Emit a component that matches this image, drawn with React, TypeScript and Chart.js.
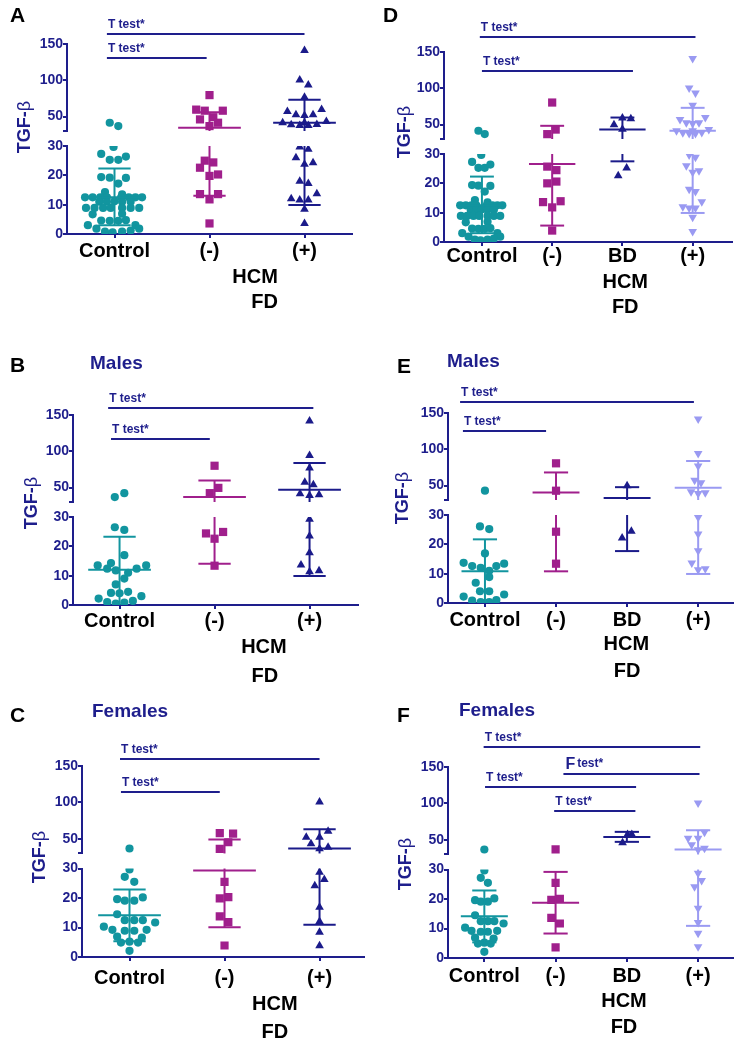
import React, { useEffect, useRef } from 'react';
import { Chart, registerables } from 'chart.js';

Chart.register(...registerables);

// ---------------- data ----------------
const categoriesHCM = ['Control', '(-)', '(+)'];
const categoriesBD = ['Control', '(-)', 'BD', '(+)'];
const yLowTickValues = [0, 10, 20, 30];
const yHighTickValues = [30, 50, 100, 150];
const yHighTickLabels = ['', '50', '100', '150'];

// points: [jitter offset (category units), TGF-β value]
const controlAll = [
  [-0.05, 41.4], [0.04, 36.8],
  [-0.01, 29.7],
  [-0.14, 27.3], [0.12, 26.4], [-0.05, 25.3], [0.04, 25.3],
  [-0.14, 19.4], [-0.05, 19.2], [0.12, 19.1], [0.04, 17.2],
  [-0.1, 14.3], [0.08, 13.5],
  [-0.31, 12.5], [-0.23, 12.5], [-0.15, 12.5], [-0.08, 12.5], [0.07, 12.5], [0.15, 12.5], [0.22, 12.5], [0.29, 12.5],
  [-0.16, 11], [-0.08, 11], [0, 11.2], [0.08, 11], [0.17, 11],
  [-0.3, 8.9], [-0.21, 8.9], [-0.12, 8.9], [-0.04, 8.9], [0.08, 8.9], [0.17, 8.9], [0.26, 8.9],
  [-0.23, 6.7], [0.08, 6.9],
  [-0.14, 4.6], [-0.05, 4.5], [0.04, 4.5], [0.12, 4.7],
  [-0.28, 3.0], [0.22, 3.0],
  [-0.19, 1.8], [0.26, 1.8],
  [-0.1, 0.8], [-0.02, 0.6], [0.08, 0.8], [0.17, 1.2],
];
const hcmNegAll = [
  [0, 79.5], [-0.14, 59.5], [-0.05, 58], [0.14, 58], [-0.1, 46], [0.04, 49], [0.09, 41.4], [0, 36.8],
  [-0.05, 25], [0.04, 24.4], [-0.1, 22.6], [0.09, 20.3], [0, 19.8], [-0.1, 13.6], [0.09, 13.6], [0, 11.8], [0, 3.6],
];
const hcmPosAll = [
  [0, 141], [-0.05, 100.5], [0.04, 93.6], [0, 76.4],
  [-0.18, 56.8], [0.18, 59.5], [-0.09, 52.3], [0, 51.4], [0.09, 52.3],
  [-0.23, 41.4], [-0.14, 38.6], [-0.05, 37.7], [0.04, 37.7], [0.13, 39], [0.23, 43], [0, 41.4],
  [-0.05, 29.7], [0.04, 28.9], [-0.09, 26], [0, 23.75], [0.09, 24.3], [-0.05, 18], [0.04, 17.2],
  [0.13, 13.75], [-0.14, 12], [-0.05, 11.6], [0.04, 11.6], [0, 8.4], [0, 3.6],
];
const fdNegAll = [
  [0, 80.3], [0.05, 43], [-0.07, 36.7], [-0.07, 25.7], [0.06, 24.5], [-0.07, 20], [0.06, 20.6],
  [-0.13, 13.6], [0.12, 13.9], [0, 11.8], [0, 3.9],
];
const bdAll = [[0, 58.8], [0.12, 58], [-0.12, 49.5], [0, 43.5], [0.06, 25.2], [-0.06, 22.6]];

const controlMale = [
  [-0.05, 36.8], [0.05, 42.2], [-0.05, 26.5], [0.05, 25.6], [0.05, 17],
  [-0.23, 13.5], [-0.09, 14.3], [-0.13, 12.4], [-0.04, 11.8], [0.09, 11], [0.18, 12.4], [0.28, 13.5],
  [0.05, 9], [-0.04, 7], [-0.09, 4.1], [0, 4], [0.09, 4.5], [0.23, 3],
  [-0.22, 2.2], [-0.13, 1], [-0.04, 0.5], [0.05, 0.8], [0.14, 1.4],
];
const hcmNegMale = [[0, 80], [0.04, 49.5], [-0.05, 42.2], [-0.09, 24.4], [0.09, 24.9], [0, 22.6], [0, 13.4]];
const hcmPosMale = [
  [0, 141.8], [0, 94.3], [0, 77], [-0.05, 57.3], [0.04, 53.7], [-0.1, 41.3], [0, 39], [0.1, 40],
  [0, 29.2], [0, 23.5], [0, 17.8], [-0.09, 13.6], [0, 11.3], [0.1, 11.7],
];
const controlMaleE = [
  [0, 42.8], [-0.07, 26.1], [0.06, 25.2], [0, 16.9],
  [-0.3, 13.7], [-0.18, 12.6], [-0.06, 12], [0.06, 11], [0.16, 12.6], [0.27, 13.4],
  [0.06, 8.85], [-0.13, 6.9], [-0.07, 4], [0.06, 4], [0.27, 2.9],
  [-0.3, 2.2], [-0.18, 0.8], [-0.06, 0.3], [0.06, 0.3], [0.16, 1.0],
];
const fdNegMale = [[0, 80.6], [0, 42.8], [0, 24.3], [0, 13.4]];
const bdMale = [[0, 49.5], [0.06, 24.5], [-0.07, 22.2]];

const controlFemale = [
  [0, 36.8], [0, 29.7], [-0.05, 27.2], [0.05, 25.5],
  [-0.13, 19.6], [-0.05, 19.1], [0.05, 19.1], [0.14, 20.2],
  [-0.13, 14.5], [-0.05, 12.5], [0.05, 12.5], [0.14, 12.5], [0.27, 11.7], [-0.27, 10.3],
  [-0.18, 9.2], [-0.05, 8.9], [0.05, 8.9], [0.18, 9.2], [-0.13, 6.9], [0.13, 6.6],
  [-0.09, 4.9], [0, 5.2], [0.09, 4.9], [0, 2.1],
];
const hcmNegFemale = [
  [-0.05, 58], [0.09, 57.3], [0.04, 45.4], [-0.05, 36.4], [0, 25.5], [-0.05, 19.9], [0.04, 20.3],
  [-0.05, 13.8], [0.04, 11.8], [0, 3.9],
];
const hcmPosFemale = [
  [0, 100.5], [0.09, 60.5], [-0.14, 52.3], [0, 52.3], [-0.09, 43.2], [0, 36.4], [0.09, 38.6],
  [0, 28.7], [0.05, 26.3], [-0.05, 24.2], [0, 16.9], [0, 12], [0, 8.4], [0, 3.8],
];
const fdNegFemale = [[0, 36.9], [0, 25.5], [-0.06, 19.7], [0.06, 20.1], [-0.06, 13.6], [0.06, 11.7], [0, 3.6]];
const bdFemale = [[0.01, 57.5], [0.07, 57.5], [-0.06, 46]];

// summary: [mean, upper whisker, lower whisker]
const controlAllStats = [12.5, 22.3, 3.0];
const hcmNegAllStats = [34.5, 55.9, 13.0];
const hcmPosAllStats = [41.4, 73, 9.9];
const fdNegAllStats = [26.6, 48.2, 5.6];
const bdAllStats = [43.1, 59.6, 27.5];
const controlMaleStats = [12.0, 23.3, 0];
const hcmNegMaleStats = [36.8, 59.6, 14.1];
const hcmPosMaleStats = [46.8, 83.8, 9.9];
const controlMaleEStats = [10.8, 21.7, 0];
const fdNegMaleStats = [40.5, 68, 10.8];
const bdMaleStats = [32.9, 47.7, 17.7];
const controlFemaleStats = [14.2, 22.9, 5.3];
const hcmNegFemaleStats = [29.3, 49.1, 10.1];
const hcmPosFemaleStats = [36.8, 63.2, 10.9];
const fdNegFemaleStats = [18.75, 29.2, 8.3];
const bdFemaleStats = [54, 61, 47.3];

// ---------------- styles ----------------
const FONT = '"Liberation Sans", Arial, Helvetica, sans-serif';
const NAVY = '#1e1e8c';
const KIND: any = {
  control: { color: '#12959f', style: 'circle', radius: 4.1, rotation: 0 },
  neg: { color: '#a01f8c', style: 'rect', radius: 5.8, rotation: 0 },
  pos: { color: '#1b1b8a', style: 'triangle', radius: 5, rotation: 0 },
  lav: { color: '#9a9af2', style: 'triangle', radius: 5, rotation: 180 },
};
const MEAN_HALF = 0.33;
const CAP_HALF = 0.17;
const BREAK = 30;

const PANELS: any[] = [
  {
    key: 'A', left: 0, top: 0, w: 370, h: 330, area: { l: 67, t: 44, r: 352, b: 234 }, xRange: [-0.5, 2.5],
    cats: categoriesHCM, xLabPad: 1,
    groups: [
      { idx: 0, pts: controlAll, stats: controlAllStats, kind: 'control' },
      { idx: 1, pts: hcmNegAll, stats: hcmNegAllStats, kind: 'neg' },
      { idx: 2, pts: hcmPosAll, stats: hcmPosAllStats, kind: 'pos' },
    ],
    letter: { x: 10, y: 22 }, title: { x: 30, y: 127 },
    brackets: [{ x0: -0.08, x1: 2.0, y: 34, label: 'T test*' }, { x0: -0.08, x1: 0.97, y: 58, label: 'T test*' }],
    extras: [{ t: 'HCM', x: 1.48, y: 283 }, { t: 'FD', x: 1.58, y: 308 }],
  },
  {
    key: 'D', left: 370, top: 0, w: 370, h: 330, area: { l: 74, t: 52, r: 362, b: 242 }, xRange: [-0.54, 3.56],
    cats: categoriesBD, xLabPad: -2,
    groups: [
      { idx: 0, pts: controlAll, stats: controlAllStats, kind: 'control' },
      { idx: 1, pts: fdNegAll, stats: fdNegAllStats, kind: 'neg' },
      { idx: 2, pts: bdAll, stats: bdAllStats, kind: 'pos' },
      { idx: 3, pts: hcmPosAll, stats: hcmPosAllStats, kind: 'lav' },
    ],
    letter: { x: 13, y: 22 }, title: { x: 40, y: 132 },
    brackets: [{ x0: -0.03, x1: 3.04, y: 37, label: 'T test*' }, { x0: 0, x1: 2.15, y: 71, label: 'T test*' }],
    extras: [{ t: 'HCM', x: 2.04, y: 288 }, { t: 'FD', x: 2.04, y: 313 }],
  },
  {
    key: 'B', left: 0, top: 330, w: 370, h: 358, area: { l: 73, t: 85, r: 358, b: 275 }, xRange: [-0.49, 2.51],
    cats: categoriesHCM, xLabPad: 0,
    groups: [
      { idx: 0, pts: controlMale, stats: controlMaleStats, kind: 'control' },
      { idx: 1, pts: hcmNegMale, stats: hcmNegMaleStats, kind: 'neg' },
      { idx: 2, pts: hcmPosMale, stats: hcmPosMaleStats, kind: 'pos' },
    ],
    letter: { x: 10, y: 42 }, sub: { t: 'Males', x: 90, y: 39 }, title: { x: 37, y: 173 },
    brackets: [{ x0: -0.12, x1: 2.04, y: 78, label: 'T test*' }, { x0: -0.09, x1: 0.95, y: 109, label: 'T test*' }],
    extras: [{ t: 'HCM', x: 1.52, y: 323 }, { t: 'FD', x: 1.53, y: 352 }],
  },
  {
    key: 'E', left: 370, top: 330, w: 370, h: 358, area: { l: 78, t: 83, r: 363, b: 273 }, xRange: [-0.52, 3.49],
    cats: categoriesBD, xLabPad: 1,
    groups: [
      { idx: 0, pts: controlMaleE, stats: controlMaleEStats, kind: 'control' },
      { idx: 1, pts: fdNegMale, stats: fdNegMaleStats, kind: 'neg' },
      { idx: 2, pts: bdMale, stats: bdMaleStats, kind: 'pos' },
      { idx: 3, pts: hcmPosMale, stats: hcmPosMaleStats, kind: 'lav' },
    ],
    letter: { x: 27, y: 43 }, sub: { t: 'Males', x: 77, y: 37 }, title: { x: 38, y: 168 },
    brackets: [{ x0: -0.35, x1: 2.94, y: 72, label: 'T test*' }, { x0: -0.31, x1: 0.86, y: 101, label: 'T test*' }],
    extras: [{ t: 'HCM', x: 1.99, y: 320 }, { t: 'FD', x: 2.0, y: 347 }],
  },
  {
    key: 'C', left: 0, top: 688, w: 370, h: 357, area: { l: 82, t: 78, r: 365, b: 269 }, xRange: [-0.5, 2.47],
    cats: categoriesHCM, xLabPad: 5,
    groups: [
      { idx: 0, pts: controlFemale, stats: controlFemaleStats, kind: 'control' },
      { idx: 1, pts: hcmNegFemale, stats: hcmNegFemaleStats, kind: 'neg' },
      { idx: 2, pts: hcmPosFemale, stats: hcmPosFemaleStats, kind: 'pos' },
    ],
    letter: { x: 10, y: 34 }, sub: { t: 'Females', x: 92, y: 29 }, title: { x: 45, y: 169 },
    brackets: [{ x0: -0.1, x1: 2.0, y: 71, label: 'T test*' }, { x0: -0.09, x1: 0.95, y: 104, label: 'T test*' }],
    extras: [{ t: 'HCM', x: 1.53, y: 322 }, { t: 'FD', x: 1.53, y: 350 }],
  },
  {
    key: 'F', left: 370, top: 688, w: 370, h: 357, area: { l: 78, t: 79, r: 363, b: 270 }, xRange: [-0.51, 3.49],
    cats: categoriesBD, xLabPad: 2,
    groups: [
      { idx: 0, pts: controlFemale, stats: controlFemaleStats, kind: 'control' },
      { idx: 1, pts: fdNegFemale, stats: fdNegFemaleStats, kind: 'neg' },
      { idx: 2, pts: bdFemale, stats: bdFemaleStats, kind: 'pos' },
      { idx: 3, pts: hcmPosFemale, stats: hcmPosFemaleStats, kind: 'lav' },
    ],
    letter: { x: 27, y: 34 }, sub: { t: 'Females', x: 89, y: 28 }, title: { x: 41, y: 176 },
    brackets: [
      { x0: -0.01, x1: 3.03, y: 59, label: 'T test*' },
      { x0: 1.11, x1: 3.02, y: 86, label: 'F test*' },
      { x0: 0.01, x1: 2.13, y: 99, label: 'T test*' },
      { x0: 0.98, x1: 2.12, y: 123, label: 'T test*' },
    ],
    extras: [{ t: 'HCM', x: 1.96, y: 319 }, { t: 'FD', x: 1.96, y: 345 }],
  },
];

function makeOverlay(cfg: any) {
  return {
    id: 'overlay' + cfg.key,
    afterDatasetsDraw(chart: any) {
      const ctx = chart.ctx;
      const xs = chart.scales.x, lo = chart.scales.yLo, hi = chart.scales.yHi;
      const py = (v: number) => (v <= BREAK ? lo.getPixelForValue(v) : hi.getPixelForValue(v));
      ctx.save();
      ctx.lineWidth = 2;
      ctx.lineCap = 'butt';
      cfg.groups.forEach((g: any) => {
        const k = KIND[g.kind];
        const [m, up, dn] = g.stats;
        ctx.strokeStyle = k.color;
        const hl = (v: number, half: number) => {
          const y = py(v);
          ctx.beginPath();
          ctx.moveTo(xs.getPixelForValue(g.idx - half), y);
          ctx.lineTo(xs.getPixelForValue(g.idx + half), y);
          ctx.stroke();
        };
        hl(m, MEAN_HALF);
        hl(up, CAP_HALF);
        if (dn > 0) hl(dn, CAP_HALF);
        const xc = xs.getPixelForValue(g.idx);
        const seg = (y0: number, y1: number) => {
          ctx.beginPath();
          ctx.moveTo(xc, y0);
          ctx.lineTo(xc, y1);
          ctx.stroke();
        };
        if (up > BREAK) seg(hi.getPixelForValue(up), hi.getPixelForValue(Math.max(dn, BREAK)));
        if (dn < BREAK) seg(lo.getPixelForValue(Math.min(up, BREAK)), lo.getPixelForValue(dn));
      });
      ctx.restore();
    },
    afterDraw(chart: any) {
      const ctx = chart.ctx;
      const xs = chart.scales.x;
      ctx.save();
      ctx.textAlign = 'left';
      ctx.textBaseline = 'alphabetic';
      // panel letter
      ctx.fillStyle = '#000';
      ctx.font = `bold 21px ${FONT}`;
      ctx.fillText(cfg.key, cfg.letter.x, cfg.letter.y);
      // subtitle
      if (cfg.sub) {
        ctx.fillStyle = NAVY;
        ctx.font = `bold 19px ${FONT}`;
        ctx.fillText(cfg.sub.t, cfg.sub.x, cfg.sub.y);
      }
      // y title
      ctx.save();
      ctx.translate(cfg.title.x, cfg.title.y);
      ctx.rotate(-Math.PI / 2);
      ctx.fillStyle = NAVY;
      ctx.font = `bold 18px ${FONT}`;
      const w1 = ctx.measureText('TGF-').width;
      ctx.font = `18px ${FONT}`;
      const w2 = ctx.measureText('β').width;
      const s = -(w1 + w2) / 2;
      ctx.font = `bold 18px ${FONT}`;
      ctx.fillText('TGF-', s, 0);
      ctx.font = `18px ${FONT}`;
      ctx.fillText('β', s + w1, 0);
      ctx.restore();
      // brackets
      cfg.brackets.forEach((b: any) => {
        const x0 = xs.getPixelForValue(b.x0), x1 = xs.getPixelForValue(b.x1);
        ctx.strokeStyle = NAVY;
        ctx.lineWidth = 2;
        ctx.beginPath();
        ctx.moveTo(x0, b.y);
        ctx.lineTo(x1, b.y);
        ctx.stroke();
        ctx.fillStyle = NAVY;
        if (b.label.startsWith('F ')) {
          ctx.font = `bold 16px ${FONT}`;
          ctx.fillText('F', x0 + 2, b.y - 5);
          const fw = ctx.measureText('F').width;
          ctx.font = `bold 12px ${FONT}`;
          ctx.fillText(b.label.slice(2), x0 + 2 + fw + 2, b.y - 7);
        } else {
          ctx.font = `bold 12px ${FONT}`;
          ctx.fillText(b.label, x0 + 1, b.y - 6);
        }
      });
      // group labels below axis
      ctx.fillStyle = '#000';
      ctx.textAlign = 'center';
      ctx.font = `bold 20px ${FONT}`;
      cfg.extras.forEach((e: any) => ctx.fillText(e.t, xs.getPixelForValue(e.x), e.y));
      ctx.restore();
    },
  };
}

function Panel({ cfg }: { cfg: any }) {
  const ref = useRef<HTMLCanvasElement | null>(null);
  useEffect(() => {
    const canvas = ref.current;
    if (!canvas) return;
    const datasets: any[] = [];
    cfg.groups.forEach((g: any) => {
      const k = KIND[g.kind];
      const mk = (arr: number[][], axis: string) => ({
        type: 'scatter',
        data: arr.map((p) => ({ x: g.idx + p[0], y: p[1] })),
        xAxisID: 'x',
        yAxisID: axis,
        showLine: false,
        pointStyle: k.style,
        pointRadius: k.radius,
        pointHoverRadius: k.radius,
        pointRotation: k.rotation,
        pointBackgroundColor: k.color,
        pointBorderColor: k.color,
        pointBorderWidth: 0,
        backgroundColor: k.color,
        borderColor: k.color,
      });
      datasets.push(mk(g.pts.filter((p: number[]) => p[1] <= BREAK), 'yLo'));
      datasets.push(mk(g.pts.filter((p: number[]) => p[1] > BREAK), 'yHi'));
    });
    const tickFont = { family: FONT, size: 14, weight: 'bold' };
    const gridOpt = { drawOnChartArea: false, drawTicks: true, tickLength: 4, color: NAVY, lineWidth: 2 };
    const borderOpt = { color: NAVY, width: 2 };
    const yWidth = (s: any) => { s.width = cfg.area.l; };
    const chart = new Chart(canvas, {
      type: 'scatter',
      data: { datasets },
      options: {
        responsive: false,
        maintainAspectRatio: false,
        devicePixelRatio: 1,
        animation: false,
        events: [],
        layout: { padding: { left: 0, top: cfg.area.t, right: cfg.w - cfg.area.r, bottom: 0 } },
        plugins: { legend: { display: false }, tooltip: { enabled: false }, title: { display: false } },
        scales: {
          x: {
            type: 'linear', position: 'bottom', min: cfg.xRange[0], max: cfg.xRange[1],
            afterBuildTicks: (s: any) => { s.ticks = cfg.cats.map((_: string, i: number) => ({ value: i })); },
            afterFit: (s: any) => { s.height = cfg.h - cfg.area.b; },
            ticks: {
              callback: (_v: any, i: number) => cfg.cats[i] ?? '',
              font: { family: FONT, size: 20, weight: 'bold' }, color: '#000',
              padding: cfg.xLabPad, autoSkip: false, maxRotation: 0, minRotation: 0,
            },
            grid: gridOpt, border: borderOpt,
          },
          yLo: {
            type: 'linear', position: 'left', stack: 'y', stackWeight: 88, weight: 0, min: 0, max: BREAK,
            afterBuildTicks: (s: any) => { s.ticks = yLowTickValues.map((v) => ({ value: v })); },
            afterFit: yWidth,
            ticks: { callback: (v: any) => String(v), font: tickFont, color: NAVY, padding: 0, autoSkip: false },
            grid: gridOpt, border: borderOpt,
          },
          yGap: {
            type: 'linear', position: 'left', stack: 'y', stackWeight: 15, weight: 1, min: 0, max: 1,
            afterFit: yWidth,
            ticks: { display: false }, grid: { display: false }, border: { display: false },
          },
          yHi: {
            type: 'linear', position: 'left', stack: 'y', stackWeight: 87, weight: 2, min: BREAK, max: 150,
            afterBuildTicks: (s: any) => { s.ticks = yHighTickValues.map((v) => ({ value: v })); },
            afterFit: yWidth,
            ticks: { callback: (_v: any, i: number) => yHighTickLabels[i] ?? '', font: tickFont, color: NAVY, padding: 0, autoSkip: false },
            grid: gridOpt, border: borderOpt,
          },
        },
      } as any,
      plugins: [makeOverlay(cfg)],
    } as any);
    return () => chart.destroy();
  }, [cfg]);
  return (
    <canvas
      ref={ref}
      width={cfg.w}
      height={cfg.h}
      style={{ position: 'absolute', left: cfg.left, top: cfg.top, width: cfg.w, height: cfg.h, display: 'block' }}
    />
  );
}

export default function App() {
  return (
    <div style={{ position: 'absolute', left: 0, top: 0, width: 740, height: 1045, background: '#fff', overflow: 'hidden' }}>
      {PANELS.map((p) => (
        <Panel key={p.key} cfg={p} />
      ))}
    </div>
  );
}
